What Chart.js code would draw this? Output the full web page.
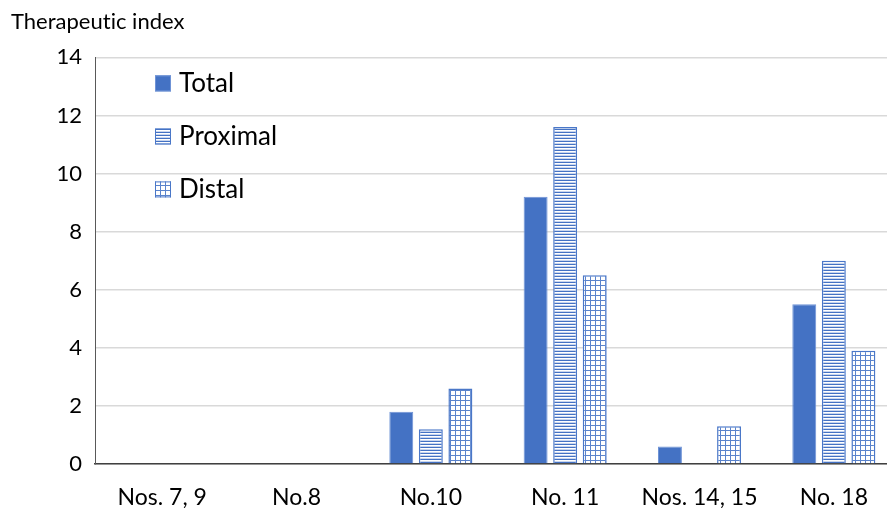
<!DOCTYPE html>
<html>
<head>
<meta charset="utf-8">
<script src="https://cdn.jsdelivr.net/npm/chart.js@4/dist/chart.umd.min.js"></script>
<style>
  html, body { margin: 0; padding: 0; background: #fff; overflow: hidden; width: 887px; height: 508px; }
  #wrap { width: 887px; height: 508px; overflow: hidden; }
  canvas { display: block; }
</style>
</head>
<body>
<div id="wrap"><canvas id="c" width="901" height="508"></canvas></div>
<script>
// Therapeutic index by lymph node station
const categories = ['Nos. 7, 9', 'No.8', 'No.10', 'No. 11', 'Nos. 14, 15', 'No. 18'];
const seriesNames = ['Total', 'Proximal', 'Distal'];
const totalValues = [0, 0, 1.8, 9.2, 0.6, 5.5];
const proximalValues = [0, 0, 1.2, 11.6, 0, 7.0];
const distalValues = [0, 0, 2.6, 6.5, 1.3, 3.9];
const yMin = 0, yMax = 14, yStep = 2;

const BLUE = '#4472C4';
const FONT = 'Lato';

const ctx = document.getElementById('c').getContext('2d');

// small tiles used as fill patterns
function tile(w, h, paint) {
  const c = document.createElement('canvas');
  c.width = w; c.height = h;
  const g = c.getContext('2d');
  g.fillStyle = '#ffffff';
  g.fillRect(0, 0, w, h);
  paint(g);
  return ctx.createPattern(c, 'repeat');
}
// narrow horizontal stripes
const stripes = tile(4, 3, g => {
  g.fillStyle = BLUE; g.fillRect(0, 0, 4, 1);
  g.fillStyle = '#c9d6ee'; g.fillRect(0, 2, 4, 1);
});
// small grid
const grid = tile(5, 5, g => {
  g.fillStyle = '#5a83cc';
  g.fillRect(0, 0, 5, 1);
  g.fillRect(0, 0, 1, 5);
});

// plain glyphs, no "ti"/"fi" ligatures
const noLigatures = {
  id: 'noLigatures',
  beforeDraw(chart) {
    if ('letterSpacing' in chart.ctx) chart.ctx.letterSpacing = '0.01px';
  }
};

// legend drawn inside the plot area, stacked vertically
const insideLegend = {
  id: 'insideLegend',
  afterDatasetsDraw(chart) {
    const c = chart.ctx, a = chart.chartArea;
    chart.data.datasets.forEach((ds, i) => {
      const x = a.left + 60, y = a.top + 18 + i * 53;
      c.save();
      c.fillStyle = ds.backgroundColor;
      c.fillRect(x, y, 16, 16);
      c.strokeStyle = ds.borderColor;
      c.lineWidth = 1;
      c.strokeRect(x + 0.5, y + 0.5, 15, 15);
      c.fillStyle = '#000';
      c.font = '26px ' + FONT;
      c.textBaseline = 'alphabetic';
      c.fillText(ds.label, x + 24, y + 17);
      c.restore();
    });
  }
};

new Chart(ctx, {
  type: 'bar',
  data: {
    labels: categories,
    datasets: [
      { label: seriesNames[0], data: totalValues, backgroundColor: BLUE, borderColor: '#6f93d6', borderWidth: 1 },
      { label: seriesNames[1], data: proximalValues, backgroundColor: stripes, borderColor: '#4a77c8', borderWidth: 1.5 },
      { label: seriesNames[2], data: distalValues, backgroundColor: grid, borderColor: '#4a77c8', borderWidth: 1.5 }
    ]
  },
  options: {
    responsive: false,
    animation: false,
    devicePixelRatio: 1,
    layout: { padding: { left: 11, right: 0, top: 0, bottom: 0 } },
    datasets: { bar: { categoryPercentage: 0.66, barPercentage: 0.81 } },
    plugins: {
      legend: { display: false },
      tooltip: { enabled: false },
      title: {
        display: true,
        text: 'Therapeutic index',
        align: 'start',
        color: '#000',
        font: { family: FONT, size: 22, weight: 'normal' },
        padding: { top: 9, bottom: 22 }
      }
    },
    scales: {
      x: {
        grid: { display: false, drawTicks: false },
        border: { color: '#404040', width: 1.5 },
        ticks: { color: '#000', font: { family: FONT, size: 23 }, padding: 20, maxRotation: 0, autoSkip: false },
        afterFit(s) { s.height = 44; }
      },
      y: {
        min: yMin, max: yMax,
        grid: { color: '#d9d9d9', lineWidth: 1.5, drawTicks: false },
        border: { color: '#595959', width: 1 },
        ticks: { stepSize: yStep, color: '#000', font: { family: FONT, size: 22 }, padding: 13 },
        afterFit(s) { s.width = 84; }
      }
    }
  },
  plugins: [noLigatures, insideLegend]
});
</script>
</body>
</html>
